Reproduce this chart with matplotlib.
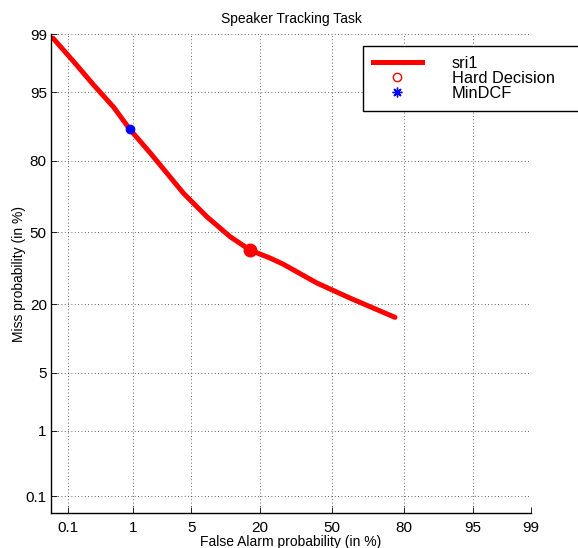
import numpy as np
import matplotlib
matplotlib.use('Agg')
import matplotlib.pyplot as plt
from matplotlib.lines import Line2D
from statistics import NormalDist

#---------------------- DATA (in %)
fa_pct   = [0.055, 0.126, 0.265, 0.531, 0.894, 1.675, 4.12, 7.16, 11.67, 16.9, 23.45, 28.4, 42.9, 58.3, 76.9]
miss_pct = [98.86, 97.73, 95.8, 92.9, 88.73, 82.4, 67.66, 57.3, 48.0, 41.8, 38.2, 35.5, 27.7, 22.1, 15.99]

hard_fa,   hard_miss   = 16.9, 41.8
mindcf_fa, mindcf_miss = 0.894, 88.73

ticks      = [0.1, 1, 5, 20, 50, 80, 95, 99]
ticklabels = ['0.1', '1', '5', '20', '50', '80', '95', '99']
lims       = [0.0505, 99]

#---------------------- normal deviate scale
nd = NormalDist()
_ppf = np.vectorize(lambda p: nd.inv_cdf(min(max(p, 1e-9), 1 - 1e-9)), otypes=[float])
_cdf = np.vectorize(nd.cdf, otypes=[float])

def fwd(x):
    return _ppf(np.asarray(x, dtype=float) / 100.0)

def inv(x):
    return _cdf(np.asarray(x, dtype=float)) * 100.0

##------------------------PLOTTING
plt.rcParams['font.family'] = ['Liberation Sans', 'DejaVu Sans']

fig = plt.figure(figsize=(5.78, 5.48), dpi=100)
ax = fig.add_axes([51/578, 1-513/548, 480/578, 479/548])

ax.set_xscale('function', functions=(fwd, inv))
ax.set_yscale('function', functions=(fwd, inv))

ax.plot(fa_pct, miss_pct, color='r', lw=3.6, solid_capstyle='round', solid_joinstyle='round')
ax.plot(hard_fa, hard_miss, 'o', color='r', ms=9)
ax.plot(mindcf_fa, mindcf_miss, 'o', color='b', ms=6)

ax.set_xlim(lims)
ax.set_ylim(lims)
ax.set_xticks(ticks)
ax.set_xticklabels(ticklabels, fontsize=11)
ax.set_yticks(ticks)
ax.set_yticklabels(ticklabels, fontsize=11)
ax.minorticks_off()
ax.tick_params(direction='in', length=4, width=0.6)
ax.tick_params(axis='x', pad=6)
ax.tick_params(axis='y', pad=3)

ax.grid(True, linestyle=(0, (1, 3)), color='k', lw=0.6, alpha=0.8)
ax.spines['top'].set_visible(False)
ax.spines['right'].set_visible(False)
ax.spines['left'].set_linewidth(1.0)
ax.spines['bottom'].set_linewidth(1.0)

ax.set_xlabel('False Alarm probability (in %)', fontsize=10, labelpad=0)
ax.set_ylabel('Miss probability (in %)', fontsize=10, labelpad=0)
ax.set_title('Speaker Tracking Task', fontsize=10, pad=8)

#---legend (proxy handles like matlab)
handles = [Line2D([], [], color='r', lw=3.6),
           Line2D([], [], ls='none', marker='o', mfc='none', mec='r', ms=6),
           Line2D([], [], ls='none', marker=(8, 2, 0), color='b', mew=1.0, ms=7)]
leg = fig.legend(handles, ['sri1', 'Hard Decision', 'MinDCF'],
                 loc='upper left', bbox_to_anchor=(363/578, 1-46/548, 0.5, 0.0),
                 mode='expand', fontsize=11.8, handlelength=3.0, handletextpad=1.8,
                 labelspacing=0.0, borderpad=0.6, borderaxespad=0.0,
                 fancybox=False, edgecolor='k', framealpha=1, numpoints=1)
leg.get_frame().set_linewidth(1.0)

plt.savefig('out.png', dpi=100)
